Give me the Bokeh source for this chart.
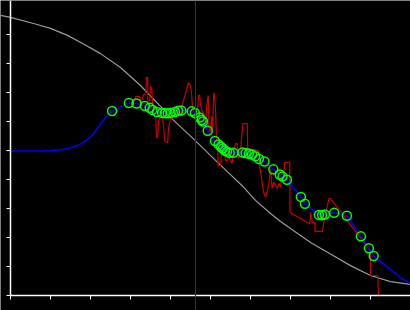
from bokeh.plotting import figure
from bokeh.models import Range1d, FixedTicker, Span
from bokeh.embed import file_html
from bokeh.resources import INLINE

# ---- data ----
x_ticks = [0, 1, 2, 3, 4, 5, 6, 7, 8, 9, 10]
y_ticks = [-5, -4, -3, -2, -1, 0, 1, 2, 3, 4]

gray_x = [-0.25, 0.0, 0.575, 1.0, 1.425, 1.825, 2.25, 2.75, 3.25, 3.75, 4.0, 4.375, 4.75,
          5.125, 5.5, 5.825, 6.125, 6.5, 6.75, 7.0, 7.5, 8.0, 8.5, 9.0, 9.5, 10.0]
gray_y = [4.66, 4.59, 4.38, 4.21, 3.97, 3.67, 3.34, 2.86, 2.24, 1.52, 1.14, 0.66, 0.17,
          -0.34, -0.83, -1.26, -1.72, -2.17, -2.45, -2.69, -3.17, -3.57, -3.97, -4.31, -4.52, -4.62]

pts_x = [2.54, 2.96, 3.15, 3.36, 3.48, 3.55, 3.66, 3.79, 3.86, 3.93, 4.00, 4.11, 4.19, 4.27,
         4.53, 4.61, 4.73, 4.78, 4.81, 4.93, 5.11, 5.20, 5.26, 5.31, 5.36, 5.41, 5.48, 5.57,
         5.80, 5.88, 5.96, 6.04, 6.12, 6.21, 6.35, 6.57, 6.73, 6.80, 6.91, 7.26, 7.36, 7.71,
         7.79, 7.86, 8.09, 8.41, 8.76, 8.96, 9.08]
pts_y = [1.36, 1.64, 1.62, 1.53, 1.47, 1.40, 1.33, 1.30, 1.28, 1.28, 1.29, 1.33, 1.37, 1.38,
         1.35, 1.29, 1.14, 1.05, 1.00, 0.68, 0.33, 0.21, 0.13, 0.07, 0.00, -0.04, -0.08, -0.08,
         -0.07, -0.09, -0.11, -0.14, -0.20, -0.29, -0.38, -0.65, -0.83, -0.90, -1.01, -1.60, -1.84, -2.22,
         -2.23, -2.21, -2.15, -2.25, -2.96, -3.37, -3.64]

fit_head_x = [-0.1, 0.75, 1.25, 1.5, 1.68, 1.83, 2.0, 2.13, 2.25, 2.42]
fit_head_y = [-0.02, -0.02, 0.02, 0.09, 0.17, 0.29, 0.46, 0.69, 0.92, 1.21]
fit_tail_x = [9.25, 9.43, 9.75, 10.0]
fit_tail_y = [-3.83, -4.03, -4.38, -4.59]

raw_x = [3.05, 3.10, 3.13, 3.23, 3.25, 3.28, 3.33, 3.38, 3.40, 3.43, 3.43, 3.48, 3.50, 3.53, 3.55,
         3.58, 3.63, 3.65, 3.68, 3.70, 3.75, 3.80, 3.83, 3.85, 3.90, 3.93, 3.95, 4.00, 4.05, 4.08,
         4.13, 4.18, 4.20, 4.25, 4.30, 4.35, 4.38, 4.43, 4.45, 4.50, 4.53, 4.55, 4.58, 4.63, 4.68,
         4.70, 4.73, 4.75, 4.78, 4.83, 4.85, 4.89, 4.90, 4.94, 4.95, 4.96, 5.00, 5.03, 5.05, 5.08,
         5.10, 5.13, 5.15, 5.18, 5.19, 5.25, 5.28, 5.33, 5.38, 5.43, 5.45, 5.50, 5.54, 5.58, 5.63,
         5.67, 5.68, 5.70, 5.75, 5.81, 5.92, 5.93, 6.20, 6.23, 6.25, 6.29, 6.33, 6.38, 6.42, 6.46,
         6.50, 6.54, 6.58, 6.63, 6.67, 6.71, 6.75, 6.79, 6.83, 6.86, 6.98, 6.99, 7.42, 7.48, 7.51,
         7.54, 7.61, 7.61, 7.80, 7.83, 7.96, 8.00, 8.96, 9.00, 9.00, 9.18, 9.20, 9.33]
raw_y = [1.62, 1.72, 1.86, 1.86, 1.62, 1.72, 1.93, 1.93, 2.52, 2.52, 1.72, 1.72, 2.21, 2.14, 1.66,
         1.28, 1.28, 0.45, 0.45, 1.03, 1.14, 1.14, 0.79, 0.34, 0.28, 0.28, 0.79, 1.10, 1.10, 1.21,
         1.48, 1.48, 1.21, 1.21, 1.62, 1.83, 2.00, 2.24, 2.34, 2.24, 1.90, 1.45, 1.31, 1.31, 1.45,
         1.90, 1.90, 1.59, 1.41, 1.28, 1.10, 1.10, 1.45, 1.90, 1.72, 0.79, 0.62, 1.17, 0.69, 1.97,
         1.97, 1.28, 0.34, 0.10, -0.52, -0.52, 0.00, 0.00, -0.34, -0.34, -0.21, -0.34, -0.45, 0.00, 0.24,
         0.24, -0.21, -0.28, 0.00, 0.93, 0.93, 0.07, 0.00, -0.59, -0.69, -1.10, -1.45, -1.62, -1.38, -1.14,
         -0.62, -1.31, -1.10, -1.21, -1.31, -1.14, -1.28, -0.76, -0.79, -0.41, -0.41, -2.14, -2.48, -2.52, -2.14,
         -2.48, -2.48, -2.79, -2.79, -2.52, -1.66, -1.66, -3.39, -3.52, -4.31, -4.31, -5.00, -5.00]

marker_x = 4.625

# ---- figure ----
p = figure(width=410, height=310, output_backend="svg", toolbar_location=None,
           x_range=Range1d(-0.25, 10.0), y_range=Range1d(-5.517, 5.172),
           background_fill_color="black", border_fill_color="black",
           min_border=0, min_border_left=0, min_border_right=0,
           min_border_top=0, min_border_bottom=0)
p.outline_line_color = None
p.grid.visible = False

for ax, loc, ticks, bnds in ((p.xaxis[0], -5, x_ticks, (0, 10)), (p.yaxis[0], 0, y_ticks, (-5, 5.6))):
    ax.fixed_location = loc
    ax.ticker = FixedTicker(ticks=ticks)
    ax.bounds = bnds
    ax.axis_line_color = "white"
    ax.axis_line_width = 1.5
    ax.major_tick_line_color = "white"
    ax.major_tick_line_width = 1
    ax.major_tick_out = 4
    ax.major_tick_in = 0
    ax.minor_tick_line_color = None
    ax.major_label_text_color = None
    ax.major_label_standoff = 0

p.line(gray_x, gray_y, line_color="#9a9a9a", line_width=1.2)
p.line(raw_x, raw_y, line_color="#c80000", line_width=1.2)
p.line(fit_head_x + pts_x + fit_tail_x, fit_head_y + pts_y + fit_tail_y,
       line_color="#0000ff", line_width=1.5)
p.scatter(pts_x, pts_y, marker="circle", size=9, fill_color=None,
          line_color="#00ff00", line_width=1.5)
p.add_layout(Span(location=marker_x, dimension="height", line_color="#800080", line_width=1))

open("out.html", "w").write(file_html(p, INLINE))
